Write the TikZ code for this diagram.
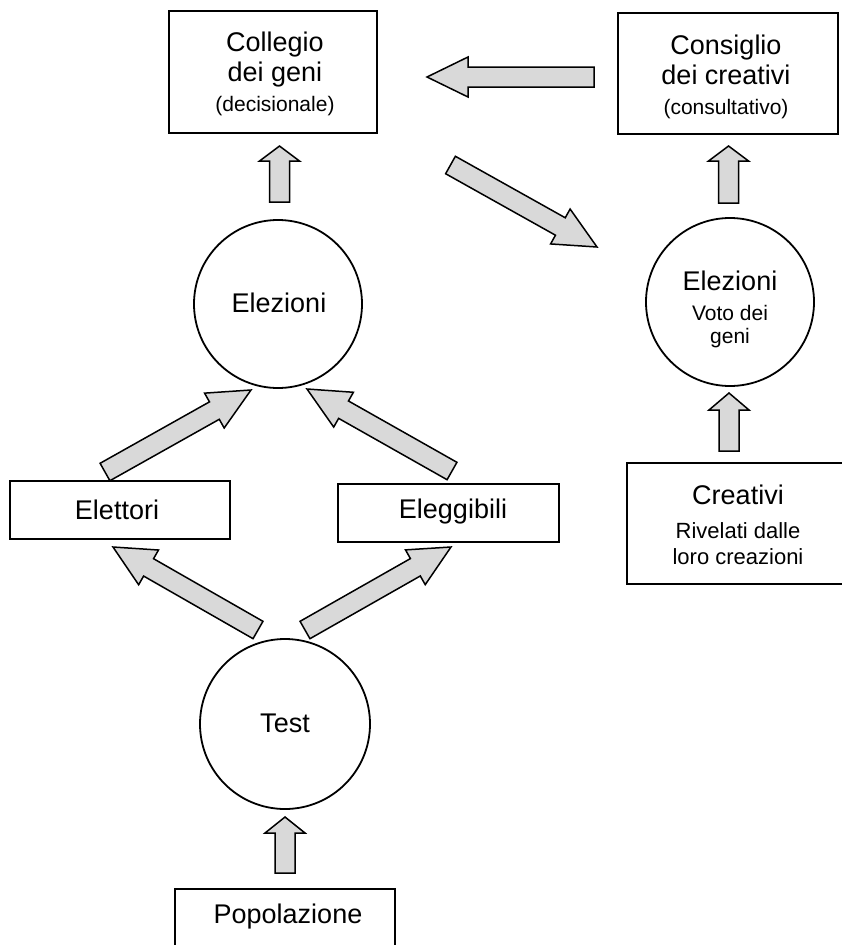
\documentclass[tikz,border=0pt]{standalone}
\usepackage{fontspec}
\setmainfont{Liberation Sans}
\usetikzlibrary{calc}
\tikzset{
  boxnode/.style={draw, line width=1.8pt, rectangle, inner sep=0pt},
  circnode/.style={draw, line width=1.8pt, circle, inner sep=0pt},
  lbl/.style={font=\fontsize{27}{30}\selectfont, align=center, inner sep=0pt},
  barrow/.style={draw, line width=1.5pt, fill=black!15, line join=miter},
}
\newcommand{\subtxt}{\fontsize{21}{23}\selectfont}
\newcommand{\subtxtb}{\fontsize{22}{24}\selectfont}
% block arrow: start, end, head length
\newcommand{\blockarrow}[3]{%
  \coordinate (#1-b) at ($(#2)!#3!(#1)$);
  \draw[barrow] ($(#1)!10pt!90:(#2)$) -- ($(#1-b)!10pt!90:(#2)$)
    -- ($(#1-b)!20pt!90:(#2)$) -- (#2) -- ($(#1-b)!20pt!-90:(#2)$)
    -- ($(#1-b)!10pt!-90:(#2)$) -- ($(#1)!10pt!-90:(#2)$) -- cycle;
}
\begin{document}
\begin{tikzpicture}[x=1pt,y=-1pt]
\useasboundingbox (0,0) rectangle (842,945);
\clip (0,0) rectangle (842,945);

% shapes
\node[boxnode, minimum width=208pt, minimum height=122pt] (collegio) at (273,72) {};
\node[boxnode, minimum width=220pt, minimum height=121pt] (consiglio) at (728,73.5) {};
\node[circnode, minimum size=168pt] (elez1) at (278,304) {};
\node[circnode, minimum size=168pt] (elez2) at (730,302) {};
\node[boxnode, minimum width=220pt, minimum height=58pt] (elettori) at (120,510) {};
\node[boxnode, minimum width=221pt, minimum height=58pt] (eleggibili) at (448.5,513) {};
\node[boxnode, minimum width=228pt, minimum height=121pt] (creativi) at (741,523.5) {};
\node[circnode, minimum size=170pt] (test) at (285,724) {};
\node[boxnode, minimum width=220pt, minimum height=71pt] (popolazione) at (285,924.5) {};

% texts
\node[lbl] (collegio-t) at (275,74) {Collegio\\dei geni\\{\subtxt (decisionale)}};
\node[lbl] (consiglio-t) at (726,77) {Consiglio\\dei creativi\\{\subtxt (consultativo)}};
\node[lbl] (elez1-t) at (279,303) {Elezioni};
\node[lbl] (elez2-t) at (730,309) {Elezioni\\{\subtxt Voto dei}\\[-7pt]{\subtxt geni}};
\node[lbl] (elettori-t) at (117,510) {Elettori};
\node[lbl] (eleggibili-t) at (453,512) {Eleggibili};
\node[lbl] (creativi-t) at (738,525) {Creativi\\[4pt]{\subtxtb Rivelati dalle}\\[-4pt]{\subtxtb loro creazioni}};
\node[lbl] (test-t) at (285,723) {Test};
\node[lbl] (popolazione-t) at (288,917) {Popolazione};

% arrow end points
\coordinate (a1) at (594,77);    \coordinate (a1e) at (427,77);
\coordinate (a2) at (450.5,165); \coordinate (a2e) at (597,247);
\coordinate (a3) at (279.5,202); \coordinate (a3e) at (279.5,146);
\coordinate (a4) at (728.5,203); \coordinate (a4e) at (728.5,146);
\coordinate (a5) at (729,451);   \coordinate (a5e) at (729,393);
\coordinate (a6) at (285,873);   \coordinate (a6e) at (285,817);
\coordinate (a7) at (105,472);   \coordinate (a7e) at (251,390);
\coordinate (a8) at (452,471);   \coordinate (a8e) at (307,389);
\coordinate (a9) at (258,630);   \coordinate (a9e) at (113,547);
\coordinate (a10) at (305,630);  \coordinate (a10e) at (451,547);

\blockarrow{a1}{a1e}{41pt}
\blockarrow{a2}{a2e}{42pt}
\blockarrow{a3}{a3e}{15pt}
\blockarrow{a4}{a4e}{15pt}
\blockarrow{a5}{a5e}{17pt}
\blockarrow{a6}{a6e}{16pt}
\blockarrow{a7}{a7e}{42pt}
\blockarrow{a8}{a8e}{42pt}
\blockarrow{a9}{a9e}{41pt}
\blockarrow{a10}{a10e}{41pt}
\end{tikzpicture}
\end{document}
